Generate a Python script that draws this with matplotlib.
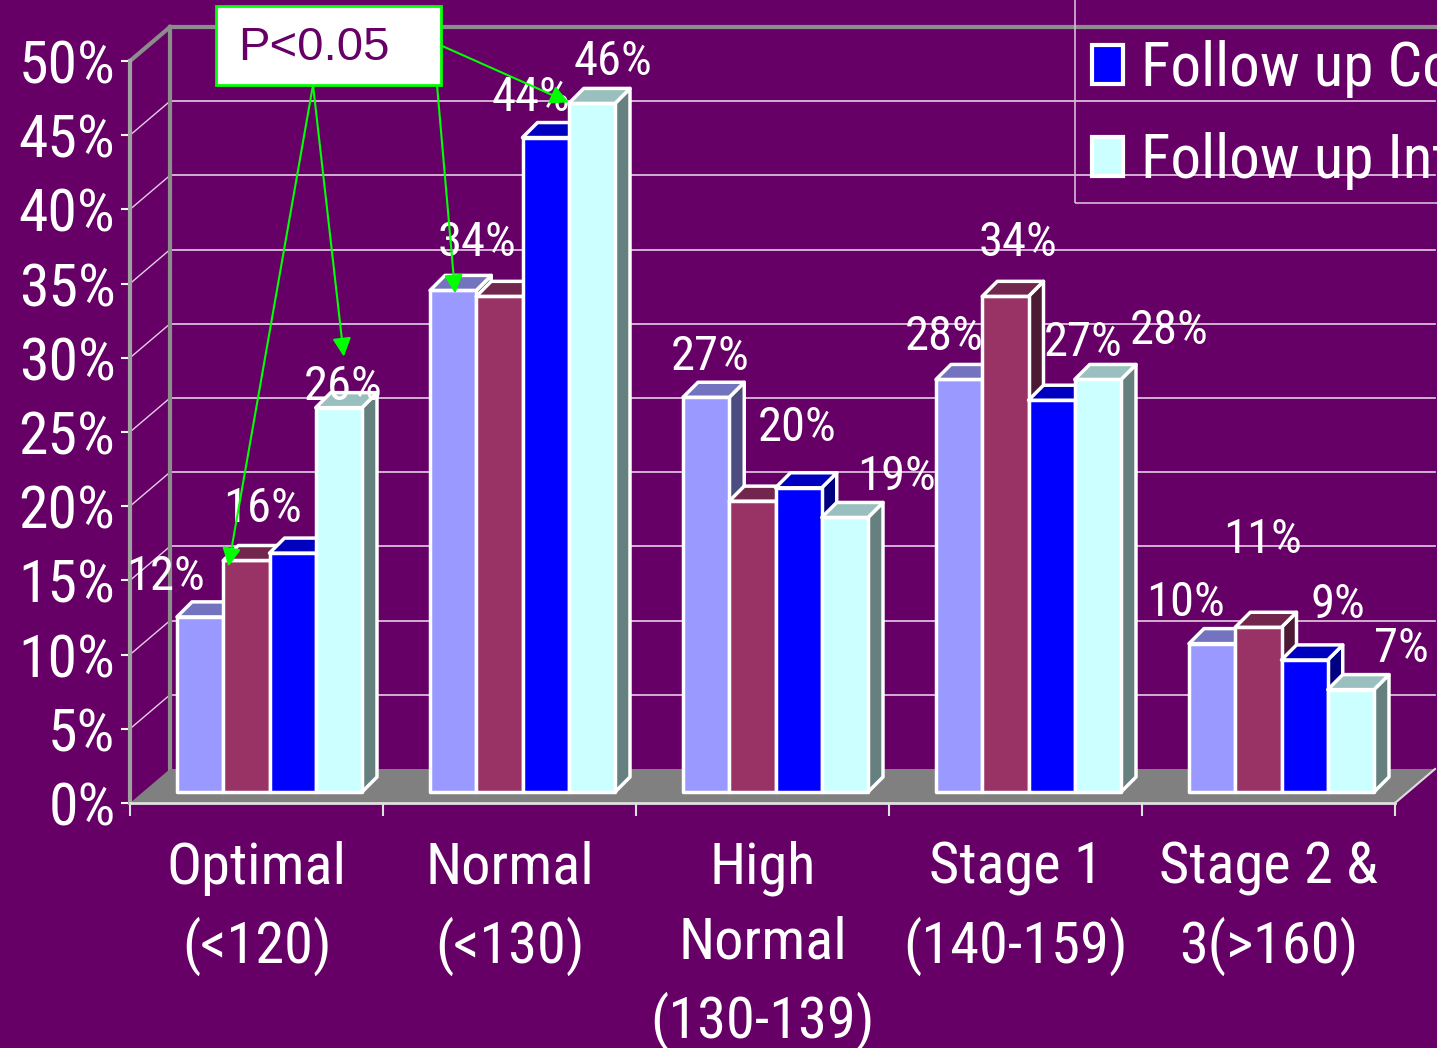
import matplotlib
matplotlib.use('Agg')
import matplotlib.pyplot as plt
from matplotlib.patches import Polygon, Rectangle, Patch
import numpy as np

# Chart data (percent of patients in each blood pressure category)
categories = ['Optimal\n(<120)', 'Normal\n(<130)', 'High\nNormal\n(130-139)',
              'Stage 1\n(140-159)', 'Stage 2 &\n3(>160)']
series_names = ['Baseline Control', 'Baseline Intervention',
                'Follow up Control', 'Follow up Intervention']
baseline_control = [11.8, 33.8, 26.6, 27.8, 10.0]
baseline_intervention = [15.6, 33.4, 19.6, 33.4, 11.1]
followup_control = [16.1, 44.1, 20.5, 26.4, 8.9]
followup_intervention = [25.9, 46.4, 18.5, 27.8, 6.9]

# Data labels as shown on the slide (some are hidden behind others)
labels_bc = ['12%', '34%', '27%', '28%', '10%']
labels_bi = ['16%', None, None, '34%', '11%']
labels_fc = [None, '44%', '20%', '27%', '9%']
labels_fi = ['26%', '46%', '19%', '28%', '7%']

yticks = [0, 5, 10, 15, 20, 25, 30, 35, 40, 45, 50]
legend_shown = [2, 3]
pvalue_text = 'P<0.05'

# ---- styling / layout ----
BG = '#660066'
W, H = 1437, 1048
PX_X = 1.0 / 253        # data units per pixel (x)
PX_Y = 50.0 / 742       # data units per pixel (y)
WALL_DX, WALL_DY = 40 * PX_X, 34 * PX_Y
BAR_DX, BAR_DY = 15 * PX_X, 15 * PX_Y
BAR_BASE = 11 * PX_Y
BAR_SHIFT = 13 * PX_X
BAR_W = 46.25 * PX_X

FRONT = ['#9999FF', '#993366', '#0000FF', '#CCFFFF']
TOP = ['#7373BF', '#73264D', '#0000BF', '#99BFBF']
SIDE = ['#4C4C80', '#4D1A33', '#000080', '#668080']

# label nudges in pixels from the bar top (right, up)
NUDGE = [
    [(-35, 40), (24, 47), (4, 40), (-15, 42), (-27, 41)],
    [(16, 51), (0, 0), (0, 0), (13, 53), (4, 87)],
    [(0, 0), (-15, 40), (-1, 60), (32, 57), (33, 55)],
    [(4, 21), (21, 41), (52, 40), (71, 48), (51, 41)],
]

FONT = ['Roboto Condensed', 'Archivo Narrow', 'Barlow Condensed', 'DejaVu Sans']
plt.rcParams['font.family'] = FONT

fig = plt.figure(figsize=(W / 100, H / 100), dpi=100, facecolor=BG)
ax = fig.add_axes([130 / W, (H - 803) / H, 1265 / W, 742 / H])
ax.set_facecolor('none')
ax.set_xlim(-0.5, 4.5)
ax.set_ylim(0, 50)

n = len(categories)
x0 = -0.5

# back wall gridlines and side wall diagonals
grid_c = '#E6CCE6'
for t in yticks[1:]:
    ax.plot([x0 + WALL_DX, n - 0.5 + WALL_DX], [t + WALL_DY, t + WALL_DY],
            color=grid_c, lw=1.2, zorder=1, clip_on=False)
    ax.plot([x0, x0 + WALL_DX], [t, t + WALL_DY], color=grid_c, lw=1.0,
            zorder=1, clip_on=False)

# wall edges
edge_c = '#8C8C8C'
ax.plot([x0 + WALL_DX, x0 + WALL_DX], [WALL_DY, 50 + WALL_DY], color=edge_c, lw=3, zorder=1.5, clip_on=False)
ax.plot([x0, x0 + WALL_DX], [50, 50 + WALL_DY], color=edge_c, lw=3, zorder=1.5, clip_on=False)
ax.plot([x0 + WALL_DX, n - 0.5 + WALL_DX], [50 + WALL_DY, 50 + WALL_DY], color=edge_c, lw=3, zorder=1.5, clip_on=False)

# floor
floor = Polygon([(x0, 0), (n - 0.5, 0), (n - 0.5 + WALL_DX, WALL_DY), (x0 + WALL_DX, WALL_DY)],
                closed=True, facecolor='#808080', edgecolor='none', zorder=2, clip_on=False)
ax.add_patch(floor)
ax.plot([n - 0.5, n - 0.5 + WALL_DX], [0, WALL_DY], color='#DDDDDD', lw=1.5, zorder=2.1, clip_on=False)

# bars
series = [baseline_control, baseline_intervention, followup_control, followup_intervention]
labels = [labels_bc, labels_bi, labels_fc, labels_fi]
edge = dict(edgecolor='white', linewidth=2.5, joinstyle='round')
for g in range(n):
    for s, vals in enumerate(series):
        xc = g + BAR_SHIFT + (s - 1.5) * BAR_W
        xl, xr = xc - BAR_W / 2, xc + BAR_W / 2
        top = BAR_BASE + vals[g]
        side = Polygon([(xr, BAR_BASE), (xr, top), (xr + BAR_DX, top + BAR_DY), (xr + BAR_DX, BAR_BASE + BAR_DY)],
                       closed=True, facecolor=SIDE[s], zorder=3, clip_on=False, **edge)
        ax.add_patch(side)
        ax.bar(xc, vals[g], width=BAR_W, bottom=BAR_BASE, color=FRONT[s], zorder=3, clip_on=False, **edge)
        lid = Polygon([(xl, top), (xr, top), (xr + BAR_DX, top + BAR_DY), (xl + BAR_DX, top + BAR_DY)],
                      closed=True, facecolor=TOP[s], zorder=3, clip_on=False, **edge)
        ax.add_patch(lid)
        txt = labels[s][g]
        if txt:
            dx, dy = NUDGE[s][g]
            ax.annotate(txt, xy=(xc, top), xytext=(dx * 0.72, dy * 0.72), textcoords='offset points',
                        ha='center', va='center', color='white', fontsize=35, zorder=6,
                        annotation_clip=False)

# axes, ticks
for sp in ['top', 'right']:
    ax.spines[sp].set_visible(False)
ax.spines['left'].set_color('#A0A0A0')
ax.spines['left'].set_linewidth(3)
ax.spines['bottom'].set_color('#E0E0E0')
ax.spines['bottom'].set_linewidth(2)
ax.spines['left'].set_zorder(2.5)
ax.spines['bottom'].set_zorder(2.5)

ax.set_yticks(yticks)
ax.set_yticklabels(['{}%'.format(t) for t in yticks])
ax.tick_params(axis='y', colors='white', labelsize=43, length=6.5, width=1.5, pad=4)
ax.set_xticks(range(n))
ax.set_xticklabels(categories, linespacing=1.45, va='top')
ax.tick_params(axis='x', which='major', colors='white', labelsize=42, length=0, pad=27)
ax.set_xticks(np.arange(-0.5, n, 1.0), minor=True)
ax.tick_params(axis='x', which='minor', colors='#E0E0E0', length=9, width=1.5)

# legend frame (its top lies above the slide, right side cut off)
frame = Rectangle((1075 / W, (H - 203) / H), 400 / W, 260 / H, transform=fig.transFigure,
                  facecolor='none', edgecolor='#D8B8D8', linewidth=1.2, zorder=4)
fig.add_artist(frame)
handles = [Patch(facecolor=FRONT[i], edgecolor='white', linewidth=3) for i in legend_shown]
leg = fig.legend(handles, [series_names[i] for i in legend_shown], loc='center left',
                 bbox_to_anchor=(1092 / W, (H - 115) / H), fontsize=44, labelcolor='white',
                 frameon=False, handlelength=0.5, handleheight=0.6, handletextpad=0.3,
                 labelspacing=0.55, borderpad=0, borderaxespad=0)

# P<0.05 annotation box with arrows
box = Rectangle((216 / W, (H - 85) / H), 225 / W, 79 / H, transform=fig.transFigure,
                facecolor='white', edgecolor='#00FF00', linewidth=2, zorder=8)
fig.add_artist(box)
fig.text(238 / W, (H - 48) / H, pvalue_text, family=['Liberation Sans', 'DejaVu Sans'], fontsize=34,
         color=BG, ha='left', va='center', zorder=9)

arrows = [
    ((313, 85), 0, 1, (-18, -6)),
    ((313, 85), 0, 3, (5, 51)),
    ((437, 85), 1, 0, (2, -3)),
    ((440, 45), 1, 3, (-23, 1)),
]
for (sx, sy), g, s, (dx, dy) in arrows:
    xc = g + BAR_SHIFT + (s - 1.5) * BAR_W
    top = BAR_BASE + series[s][g]
    ax.annotate('', xy=(xc + dx * PX_X, top + dy * PX_Y), xycoords='data',
                xytext=(sx, H - sy), textcoords='figure pixels',
                arrowprops=dict(arrowstyle='-|>', color='#00FF00', lw=1.5,
                                mutation_scale=28, shrinkA=0, shrinkB=0),
                annotation_clip=False, zorder=7)

fig.savefig('out.png', dpi=100, facecolor=BG)
